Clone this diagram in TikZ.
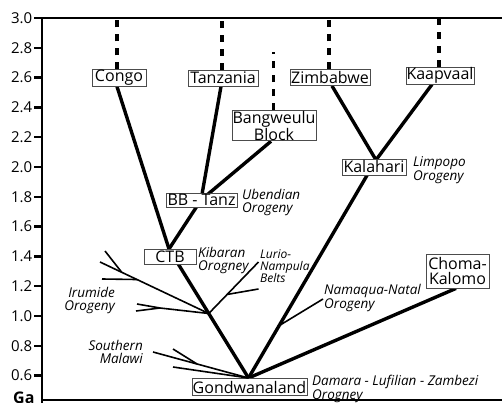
\documentclass[tikz,border=0pt]{standalone}
\usepackage{fontspec}
\setmainfont{Open Sans}
\usetikzlibrary{backgrounds,calc}
\begin{document}
\begin{tikzpicture}[x=1pt,y=-1pt,
  box/.style={draw=black!70, line width=0.8pt, fill=white, inner sep=0.5pt, font=\fontsize{16}{14}\selectfont, align=center},
  lab/.style={font=\fontsize{13.5}{13}\selectfont\itshape, inner sep=0pt},
  smalllab/.style={font=\fontsize{12}{12}\selectfont\itshape, inner sep=0pt, align=left},
  trunk/.style={line width=3.4pt},
  twig/.style={line width=1.6pt},
  dashline/.style={line width=3.4pt, dash pattern=on 7pt off 7pt},
  axisline/.style={line width=1.5pt},
  tickmark/.style={line width=2.5pt},
  ticklab/.style={font=\fontsize{15}{15}\selectfont, anchor=east, inner sep=0pt},
]
\useasboundingbox (0,0) rectangle (502,403);

% axes
\coordinate (topaxis) at (42,18);
\draw[axisline] (42,18) -- (502,18);
\draw[axisline] (42,18) -- (42,403);
\draw[axisline] (42,400) -- (502,400);
\foreach \v in {3.0,2.8,2.6,2.4,2.2,2.0,1.8,1.6,1.4,1.2,1.0,0.8,0.6}{
  \pgfmathsetmacro\yy{18+(3-\v)*149}
  \draw[tickmark] (34,\yy) -- (42.5,\yy);
  \node[ticklab] (t\v) at (32.5,\yy) {\v};
}
\node[font=\fontsize{16}{16}\selectfont\bfseries, anchor=north west, inner sep=0pt] (ga) at (13,392) {Ga};

% boxes
\node[box, minimum width=54pt, minimum height=16pt] (congo) at (119,78) {Congo};
\node[box, minimum width=70pt, minimum height=16pt] (tanz) at (223,78) {Tanzania};
\node[box, minimum width=80pt, minimum height=16pt] (zim) at (330,77.5) {Zimbabwe};
\node[box, minimum width=66pt, minimum height=17pt] (kaap) at (440,75.5) {Kaapvaal};
\node[box, minimum width=84pt, minimum height=30pt] (bang) at (274,125.7) {Bangweulu\\Block};
\node[box, minimum width=71pt, minimum height=14pt] (bbt) at (201.5,200) {BB - Tanz};
\node[box, minimum width=64pt, minimum height=16pt] (kal) at (374,167) {Kalahari};
\node[box, minimum width=52pt, minimum height=15pt] (ctb) at (170,256.5) {CTB};
\node[box, minimum width=63pt, minimum height=34pt, font=\fontsize{16}{15.5}\selectfont] (choma) at (457.5,271) {Choma-\\Kalomo};
\node[box, minimum width=115pt, minimum height=17pt] (gond) at (249.5,387) {Gondwanaland};

% labels
\node[lab, anchor=north west, align=left] (ubend) at (242,189) {Ubendian\\Orogeny};
\node[lab, anchor=north west, align=left] (limp) at (413,156) {Limpopo\\Orogeny};
\node[lab, anchor=north west, align=left] (kib) at (198,247.5) {Kibaran\\Orogney};
\node[smalllab, anchor=north west] (lurio) at (260,249) {Lurio-\\Nampula\\Belts};
\node[lab, anchor=north west, align=left] (nama) at (324,284) {Namaqua-Natal\\Orogeny};
\node[lab, anchor=north east, align=right] (irum) at (115,287.5) {Irumide\\Orogeny};
\node[lab, anchor=north east, align=right] (smal) at (143,340) {Southern\\Malawi};
\node[lab, anchor=north west, align=left, font=\fontsize{13.5}{12.5}\selectfont\itshape] (dam) at (312,374.5) {Damara - Lufilian - Zambezi\\Orogney};

% junctions
\coordinate (ctbj) at (169,249);
\coordinate (bbj) at (201,200);
\coordinate (kj) at (376,160);
\coordinate (gj) at (248.5,378);
\coordinate (irj) at ($(ctbj)!0.5!(gj)$);
\coordinate (nj) at ($(kj)!0.76!(gj)$);

\begin{pgfonlayer}{background}
\fill[white] (0,0) rectangle (502,403);
% dashed continuations
\draw[dashline] ([xshift=-2pt]congo.north) -- ([xshift=-2pt]congo.north |- topaxis);
\draw[dashline] ([xshift=-1pt]tanz.north) -- ([xshift=-1pt]tanz.north |- topaxis);
\draw[dashline] ([xshift=-1pt]zim.north) -- ([xshift=-1pt]zim.north |- topaxis);
\draw[dashline] ([xshift=-1pt]kaap.north) -- ([xshift=-1pt]kaap.north |- topaxis);
\draw[dashline] ([xshift=-0.7pt]bang.north) -- ++(0,-58);

% trunks
\draw[trunk] ([xshift=-2pt]congo.south) -- (ctbj);
\draw[trunk] ([xshift=-2pt]tanz.south) -- (bbj);
\draw[trunk] ([xshift=-3pt]bang.south) -- (bbj);
\draw[trunk] (bbj) -- (ctbj);
\draw[trunk] (ctbj) -- (gj);
\draw[trunk] ([xshift=2pt]zim.south) -- (kj);
\draw[trunk] ([xshift=-8pt]kaap.south) -- (kj);
\draw[trunk] (kj) -- (gj);
\draw[trunk] ([xshift=-1.5pt]choma.south) -- (gj);
\end{pgfonlayer}

% Irumide twigs
\coordinate (ira) at (100,262);
\draw[twig] (ira) -- (irj);
\draw[twig] (105,251) -- ($(ira)!0.2!(irj)$);
\draw[twig] (102,279) -- ($(ira)!0.34!(irj)$);
\coordinate (irf) at (160,308);
\draw[twig] (137,304) -- (irf);
\draw[twig] (136,311) -- (irf);
\draw[twig] (irf) -- (irj);

% Southern Malawi twigs
\coordinate (sma) at (153,352);
\draw[twig] (sma) -- (gj);
\draw[twig] (173,349) -- ($(sma)!0.46!(gj)$);
\draw[twig] (173,367) -- (gj);

% Lurio-Nampula twigs
\coordinate (lua) at (258.5,262);
\draw[twig] (irj) -- (lua);
\draw[twig] ($(irj)!0.37!(lua)$) -- (258.5,289);

% Namaqua-Natal twig
\draw[twig] (nj) -- (323,299);
\end{tikzpicture}
\end{document}
